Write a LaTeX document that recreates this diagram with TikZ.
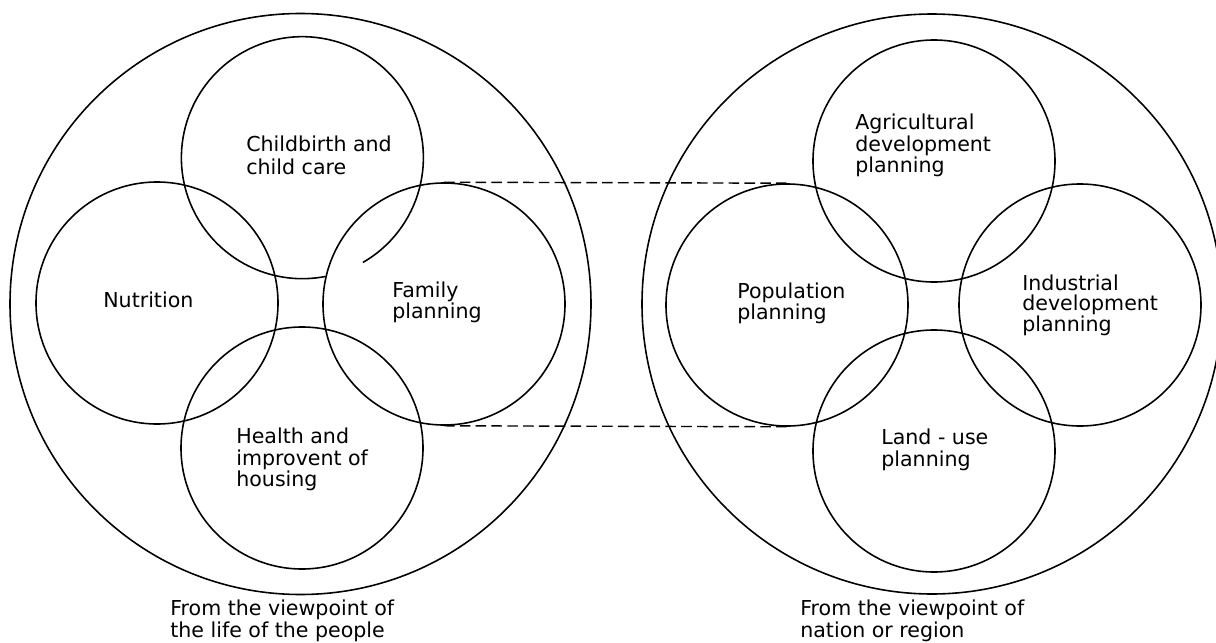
\documentclass[tikz,border=0pt]{standalone}
\usepackage{fontspec}
\setmainfont{DejaVu Sans}
\begin{document}
\begin{tikzpicture}[scale=0.2]
            \tikzstyle{every node}+=[inner sep=0pt]
            \tikzstyle{ring}=[circle, draw, line width=0.9pt, minimum size=4.84cm]
            \tikzstyle{lbl}=[anchor=north west, align=left, font=\fontsize{11.7}{12.5}\selectfont]
            \useasboundingbox (0,0) rectangle (121.6,-64.3);
                % the life of the people
                \draw [black, line width=0.9pt] (30.05,-30.4) circle (29.05);
                \node [ring, draw=none] (cb) at (30.2,-15.7) {};
                \draw [black, line width=0.9pt] (cb.-60) arc [start angle=-60, end angle=281, radius=12.1];
                \node [ring] (nut) at (15.7,-30.3) {};
                \node [ring] (fam) at (44.4,-30.4) {};
                \node [ring] (hea) at (30.2,-44.8) {};
                \node [lbl, font=\fontsize{11.7}{13}\selectfont] (cbt) at (24.6,-13.6) {Childbirth and\\child care};
                \node [lbl] (nutt) at (10.3,-29.2) {Nutrition};
                \node [lbl, font=\fontsize{11.7}{11.6}\selectfont] (famt) at (39.2,-28.2) {Family\\planning};
                \node [lbl, font=\fontsize{11.7}{12}\selectfont] (heat) at (23.6,-42.8) {Health and\\improvent of\\housing};
                \node [lbl, font=\fontsize{11.7}{12}\selectfont] (leftt) at (17.0,-60.0) {From the viewpoint of\\the life of the people};
                % nation or region
                \draw [black, line width=0.9pt] (93.2,-30.4) circle (29.0);
                \node [ring] (agr) at (93.4,-16.1) {};
                \node [ring] (pop) at (78.7,-30.5) {};
                \node [ring] (ind) at (108.0,-30.5) {};
                \node [ring] (land) at (93.4,-45.1) {};
                \node [lbl, font=\fontsize{11.7}{12.2}\selectfont] (agrt) at (85.5,-11.4) {Agricultural\\development\\planning};
                \node [lbl, font=\fontsize{11.7}{11.8}\selectfont] (popt) at (73.7,-28.3) {Population\\planning};
                \node [lbl, font=\fontsize{11.7}{11}\selectfont] (indt) at (102.2,-27.5) {Industrial\\development\\planning};
                \node [lbl, font=\fontsize{11.7}{12}\selectfont] (landt) at (88.1,-42.9) {Land - use\\planning};
                \node [lbl, font=\fontsize{11.7}{12}\selectfont] (rightt) at (80.0,-60.0) {From the viewpoint of\\nation or region};
                % links
                \draw [black, line width=0.8pt, dash pattern=on 6pt off 3pt] (fam.north) -- (pop.north);
                \draw [black, line width=0.8pt, dash pattern=on 6pt off 3pt] (fam.south) -- (pop.south);
            \end{tikzpicture}
\end{document}
